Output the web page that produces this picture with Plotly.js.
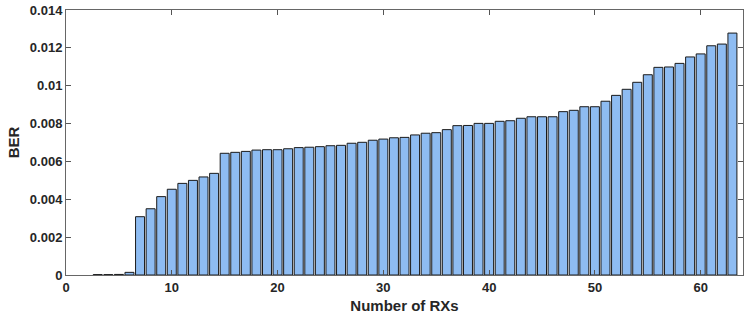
<!DOCTYPE html>
<html>
<head>
<meta charset="utf-8">
<script src="https://cdn.plot.ly/plotly-3.0.1.min.js"></script>
<style>html,body{margin:0;padding:0;background:#fff;}#chart{width:748px;height:319px;}</style>
</head>
<body>
<div id="chart"></div>
<script>
const numRX = [];
for (let i = 1; i <= 63; i++) numRX.push(i);
const ber = [
  null, null, 0.00002, 0.00002, 0.00003, 0.00014, 0.00308, 0.0035, 0.00414, 0.00453,
  0.00484, 0.0050, 0.00518, 0.00537, 0.00643, 0.00648, 0.00653, 0.0066, 0.00662, 0.00662,
  0.00667, 0.00673, 0.00675, 0.00678, 0.00683, 0.00685, 0.00696, 0.00701, 0.00712, 0.00718,
  0.00725, 0.00727, 0.0074, 0.00749, 0.00752, 0.00768, 0.00789, 0.0079, 0.00801, 0.00801,
  0.00812, 0.00815, 0.00828, 0.00836, 0.00836, 0.00836, 0.00863, 0.0087, 0.00889, 0.00889,
  0.00918, 0.00949, 0.00981, 0.01018, 0.01058, 0.01097, 0.01099, 0.01118, 0.01152, 0.01168,
  0.01211, 0.0122, 0.01278
];
const xTicks = [0, 10, 20, 30, 40, 50, 60];
const yTicks = [0, 0.002, 0.004, 0.006, 0.008, 0.01, 0.012, 0.014];
const yTickText = ['0', '0.002', '0.004', '0.006', '0.008', '0.01', '0.012', '0.014'];

const tickFont = {family: 'Liberation Sans, Arial, sans-serif', size: 13, color: '#262626', weight: 'bold'};
Plotly.newPlot('chart', [{
  type: 'bar',
  x: numRX,
  y: ber,
  width: 0.85,
  marker: {color: 'rgb(142,188,242)', line: {color: '#1a1a1a', width: 1}},
  hoverinfo: 'none'
}], {
  width: 748, height: 319,
  margin: {l: 66, r: 5, t: 10, b: 44},
  paper_bgcolor: '#fff', plot_bgcolor: '#fff',
  showlegend: false,
  bargap: 0,
  xaxis: {
    range: [0, 64], tickvals: xTicks, ticktext: xTicks.map(String),
    ticks: 'inside', ticklen: 5, tickcolor: '#555', tickwidth: 1,
    showline: true, linecolor: '#666', linewidth: 1, mirror: 'allticks',
    showgrid: false, zeroline: false,
    tickfont: tickFont,
    title: {text: '<b>Number of RXs</b>', font: {family: 'Liberation Sans, Arial, sans-serif', size: 15, color: '#262626'}, standoff: 6}
  },
  yaxis: {
    range: [0, 0.014], tickvals: yTicks, ticktext: yTickText,
    ticks: 'inside', ticklen: 5, tickcolor: '#555', tickwidth: 1,
    showline: true, linecolor: '#666', linewidth: 1, mirror: 'allticks',
    showgrid: false, zeroline: false,
    tickfont: tickFont,
    title: {text: '<b>BER</b>', font: {family: 'Liberation Sans, Arial, sans-serif', size: 15, color: '#262626'}, standoff: 6}
  }
}, {staticPlot: true, displayModeBar: false});
</script>
</body>
</html>
